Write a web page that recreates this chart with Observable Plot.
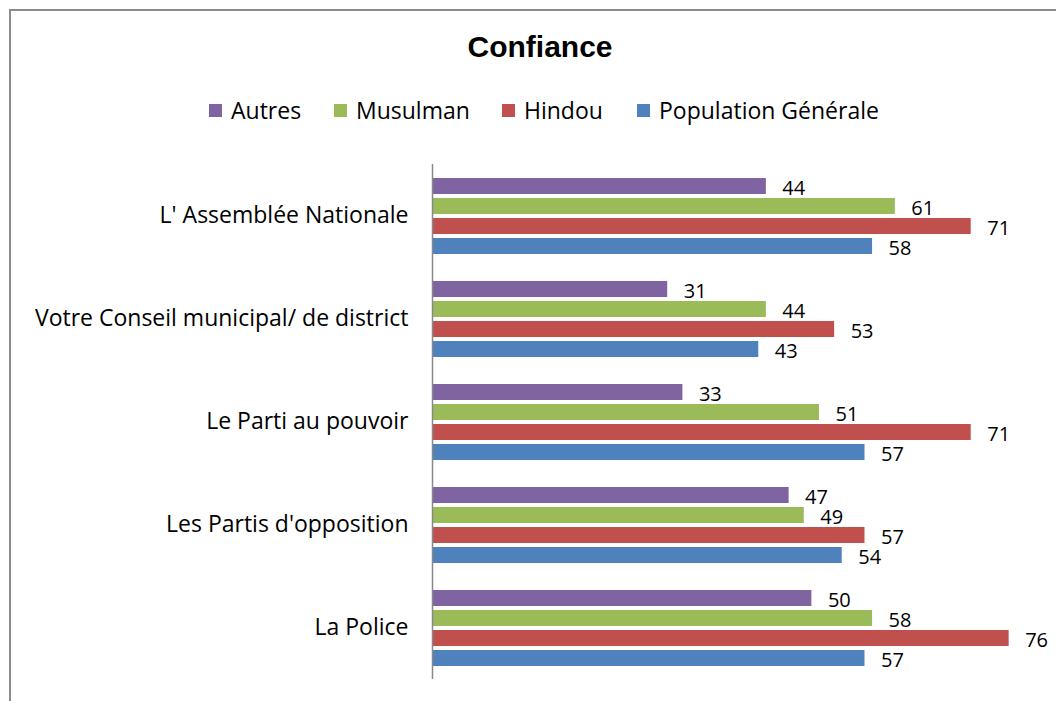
<!DOCTYPE html>
<html>
<head>
<meta charset="utf-8">
<script src="https://cdn.jsdelivr.net/npm/d3@7"></script>
<script src="https://cdn.jsdelivr.net/npm/@observablehq/plot@0.6"></script>
<style>
  html, body { margin: 0; padding: 0; background: #fff; width: 1056px; height: 701px; overflow: hidden; }
  body { position: relative; font-family: "Open Sans", Lato, sans-serif; }
  #frame { position: absolute; left: 9px; top: 9px; width: 1100px; height: 800px; border: 2px solid #8c8c8c; box-sizing: border-box; }
  #title { position: absolute; top: 30px; left: 0; width: 1080px; text-align: center; font-family: "Liberation Sans", Arial, sans-serif; font-weight: bold; font-size: 30px; color: #000; }
  .item { position: absolute; top: 95px; display: flex; align-items: center; font-size: 23px; color: #000; height: 30px; }
  .sw { width: 13px; height: 13px; margin-right: 9px; }
  #chart { position: absolute; left: 0; top: 150px; }
</style>
</head>
<body>
<div id="frame"></div>
<div id="title">Confiance</div>
<div id="legend"></div>
<div id="chart"></div>
<script>
const categories = ["L' Assemblée Nationale", "Votre Conseil municipal/ de district", "Le Parti au pouvoir", "Les Partis d'opposition", "La Police"];
const seriesNames = ["Autres", "Musulman", "Hindou", "Population Générale"];
const autres = [44, 31, 33, 47, 50];
const musulman = [61, 44, 51, 49, 58];
const hindou = [71, 53, 71, 57, 76];
const population = [58, 43, 57, 54, 57];
const colors = ["#8064A2", "#9BBB59", "#C0504D", "#4F81BD"];
const legendX = [209, 334, 502, 637];

const seriesValues = [autres, musulman, hindou, population];
const data = categories.flatMap((c, i) => seriesNames.map((s, j) => ({category: c, series: s, value: seriesValues[j][i]})));

const legend = document.getElementById("legend");
seriesNames.forEach((s, j) => {
  const it = document.createElement("div");
  it.className = "item";
  it.style.left = legendX[j] + "px";
  const sw = document.createElement("div");
  sw.className = "sw";
  sw.style.background = colors[j];
  const t = document.createElement("span");
  t.textContent = s;
  it.appendChild(sw); it.appendChild(t);
  legend.appendChild(it);
});

const chart = Plot.plot({
  width: 1056,
  height: 551,
  marginLeft: 432,
  marginRight: 17,
  marginTop: 14,
  marginBottom: 22,
  style: {fontFamily: "'Open Sans', Lato, sans-serif", fontSize: "23px", color: "#000", background: "transparent", overflow: "visible"},
  x: {domain: [0, 80], axis: null},
  y: {domain: seriesNames, axis: null, paddingInner: 0.22, paddingOuter: 0.61},
  fy: {domain: categories, padding: 0, label: null, axis: "left", tickSize: 0, tickPadding: 24},
  color: {domain: seriesNames, range: colors},
  marks: [
    Plot.barX(data, {x: "value", y: "series", fy: "category", fill: "series"}),
    Plot.text(data, {x: "value", y: "series", fy: "category", text: d => String(d.value), textAnchor: "start", dx: 16, dy: 2, fill: "#000", fontSize: 20}),
    Plot.ruleX([0], {stroke: "#888", strokeWidth: 1.5})
  ]
});
document.getElementById("chart").appendChild(chart);
</script>
</body>
</html>
